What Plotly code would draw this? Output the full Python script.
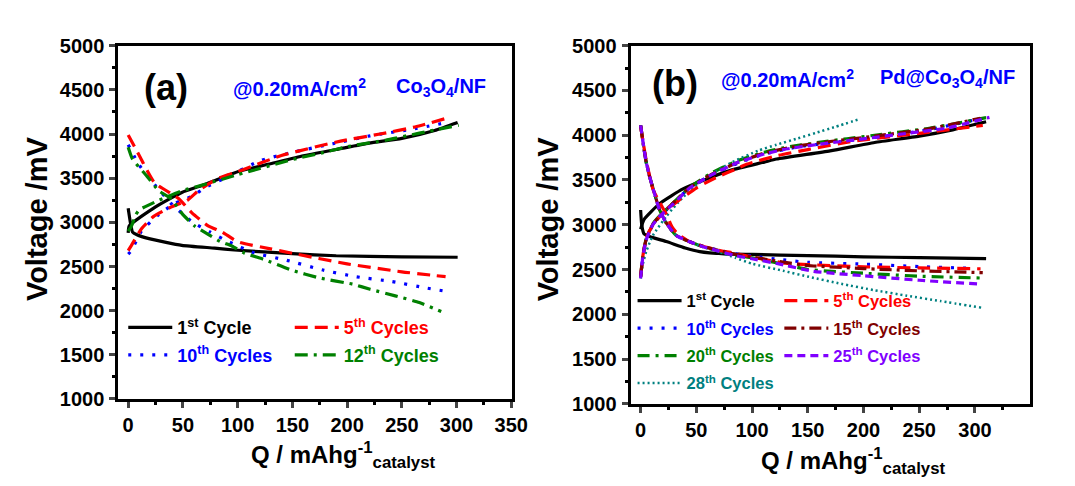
import plotly.graph_objects as go

# ---------------- Panel (a): Co3O4/NF ----------------
a1_chg_q = [0, 1, 25, 49, 70, 100, 130, 160, 190, 220, 250, 280, 301]
a1_chg_v = [2880, 2960, 3176, 3339, 3429, 3573, 3663, 3754, 3825, 3897, 3951, 4041, 4132]
a1_dis_q = [0, 2, 4, 8, 19, 49, 79, 97, 150, 190, 250, 301]
a1_dis_v = [3160, 3000, 2890, 2860, 2816, 2740, 2708, 2687, 2645, 2622, 2610, 2605]

a5_chg_q = [0, 3, 12, 23, 37, 54, 64, 82, 100, 140, 194, 230, 262, 294]
a5_chg_v = [2680, 2740, 2925, 3065, 3160, 3250, 3357, 3497, 3573, 3757, 3920, 4000, 4080, 4190]
a5_dis_q = [0, 10, 24, 46, 58, 73, 86, 100, 130, 150, 200, 250, 290]
a5_dis_v = [3990, 3760, 3450, 3270, 3110, 2960, 2890, 2780, 2700, 2650, 2530, 2440, 2385]

a10_chg_q = [0, 3, 12, 28, 43, 59, 70, 88, 121, 149, 187, 221, 262, 293]
a10_chg_v = [2640, 2680, 2900, 3090, 3216, 3300, 3390, 3500, 3700, 3790, 3890, 3980, 4060, 4135]
a10_dis_q = [0, 10, 24, 39, 58, 75, 91, 115, 145, 178, 208, 241, 273, 289]
a10_dis_v = [3880, 3650, 3430, 3216, 3010, 2890, 2785, 2655, 2570, 2460, 2385, 2330, 2255, 2222]

a12_chg_q = [0, 3, 7, 10, 28, 49, 70, 100, 151, 178, 203, 235, 266, 302]
a12_chg_v = [2900, 2957, 3087, 3140, 3250, 3357, 3430, 3540, 3714, 3790, 3865, 3930, 4010, 4100]
a12_dis_q = [0, 4, 16, 28, 39, 50, 61, 75, 84, 95, 106, 124, 149, 175, 205, 221, 244, 266, 286]
a12_dis_v = [3850, 3714, 3540, 3357, 3270, 3087, 2957, 2849, 2784, 2730, 2654, 2580, 2460, 2370, 2300, 2243, 2168, 2092, 1990]

# ---------------- Panel (b): Pd@Co3O4/NF ----------------
b1_chg_q = [0, 3, 17, 38, 61, 82, 111, 122, 170, 210, 250, 280, 310]
b1_chg_v = [2950, 3058, 3236, 3400, 3520, 3613, 3700, 3734, 3826, 3919, 3990, 4060, 4150]
b1_dis_q = [0, 1, 3, 10, 23, 40, 53, 75, 100, 150, 200, 250, 310]
b1_dis_v = [3165, 3000, 2900, 2860, 2812, 2740, 2700, 2675, 2668, 2655, 2642, 2632, 2622]

b5_chg_q = [0, 2, 5, 11, 20, 35, 50, 61, 70, 85, 95, 122, 150, 192, 254, 307]
b5_chg_v = [2420, 2650, 2850, 3000, 3130, 3280, 3410, 3485, 3540, 3620, 3675, 3770, 3840, 3935, 4026, 4110]
b5_dis_q = [0, 5, 11, 17, 23, 28, 33, 44, 56, 70, 85, 100, 130, 150, 200, 250, 305]
b5_dis_v = [4100, 3720, 3400, 3250, 3120, 2980, 2900, 2810, 2760, 2715, 2680, 2640, 2570, 2555, 2530, 2518, 2508]

b10_chg_q = [0, 2, 5, 11, 17, 29, 44, 64, 88, 111, 141, 170, 210, 258, 305]
b10_chg_v = [2420, 2650, 2830, 3000, 3090, 3236, 3413, 3560, 3690, 3790, 3870, 3915, 3975, 4060, 4185]
b10_dis_q = [0, 3, 5, 8, 11, 17, 23, 32, 44, 56, 70, 85, 100, 124, 150, 200, 250, 297]
b10_dis_v = [4110, 3850, 3700, 3540, 3410, 3165, 3020, 2880, 2810, 2760, 2715, 2675, 2650, 2613, 2580, 2560, 2532, 2514]

b15_chg_q = [0, 2, 5, 11, 17, 29, 44, 64, 88, 111, 141, 170, 210, 258, 305]
b15_chg_v = [2420, 2650, 2840, 3005, 3095, 3240, 3415, 3565, 3700, 3800, 3880, 3930, 3990, 4070, 4190]
b15_dis_q = [0, 3, 5, 8, 11, 17, 23, 32, 44, 56, 70, 85, 100, 124, 150, 200, 250, 307]
b15_dis_v = [4110, 3850, 3700, 3540, 3410, 3165, 3020, 2880, 2810, 2760, 2712, 2670, 2640, 2590, 2545, 2510, 2485, 2465]

b20_chg_q = [0, 2, 5, 11, 17, 29, 44, 64, 88, 111, 128, 160, 210, 260, 310]
b20_chg_v = [2420, 2650, 2840, 3010, 3100, 3240, 3420, 3580, 3720, 3810, 3860, 3920, 4000, 4080, 4196]
b20_dis_q = [0, 3, 5, 8, 11, 17, 23, 32, 44, 56, 70, 85, 100, 124, 150, 200, 250, 305]
b20_dis_v = [4110, 3850, 3700, 3540, 3410, 3165, 3020, 2880, 2810, 2755, 2705, 2660, 2630, 2570, 2500, 2458, 2425, 2405]

b25_chg_q = [0, 2, 5, 11, 17, 29, 44, 64, 88, 111, 128, 157, 200, 242, 275, 313]
b25_chg_v = [2400, 2640, 2830, 3000, 3090, 3230, 3410, 3560, 3700, 3790, 3840, 3894, 3960, 4026, 4080, 4200]
b25_dis_q = [0, 3, 5, 8, 11, 17, 23, 32, 44, 56, 70, 85, 100, 125, 155, 200, 250, 305]
b25_dis_v = [4110, 3850, 3700, 3540, 3410, 3165, 3020, 2880, 2810, 2755, 2705, 2655, 2620, 2560, 2480, 2430, 2380, 2336]

b28_chg_q = [0, 2, 5, 11, 23, 38, 58, 82, 106, 122, 141, 157, 175, 197]
b28_chg_v = [2400, 2560, 2700, 2880, 3093, 3307, 3520, 3698, 3830, 3894, 3965, 4026, 4095, 4182]
b28_dis_q = [0, 3, 5, 8, 11, 17, 23, 32, 44, 56, 70, 85, 100, 128, 151, 180, 210, 239, 269, 307]
b28_dis_v = [4110, 3850, 3700, 3540, 3410, 3165, 3020, 2880, 2810, 2750, 2700, 2630, 2565, 2485, 2418, 2340, 2268, 2207, 2147, 2071]

x_ticks = [0, 50, 100, 150, 200, 250, 300, 350]
y_ticks = [1000, 1500, 2000, 2500, 3000, 3500, 4000, 4500, 5000]

W, H = 1075, 486
def px(x): return x / W
def py(y): return 1 - y / H

FONT = "Liberation Sans, Arial, sans-serif"

fig = go.Figure()

def add(q1, v1, q2, v2, name, color, dash, xa, ya, legend, width=3.2):
    fig.add_trace(go.Scatter(
        x=q1 + [None] + q2, y=v1 + [None] + v2, mode="lines",
        line=dict(color=color, width=width, dash=dash, shape="spline", smoothing=0.5),
        name=f"<span style='color:{color}'>{name}</span>",
        xaxis=xa, yaxis=ya, legend=legend, legendgroup=name + legend,
        connectgaps=False))

# panel a
add(a1_chg_q, a1_chg_v, a1_dis_q, a1_dis_v, "1<sup>st</sup> Cycle", "#000000", "solid", "x", "y", "legend")
add(a10_chg_q, a10_chg_v, a10_dis_q, a10_dis_v, "10<sup>th</sup> Cycles", "#0000FF", "3px,9px", "x", "y", "legend")
add(a5_chg_q, a5_chg_v, a5_dis_q, a5_dis_v, "5<sup>th</sup> Cycles", "#FF0000", "13px,7px", "x", "y", "legend2")
add(a12_chg_q, a12_chg_v, a12_dis_q, a12_dis_v, "12<sup>th</sup> Cycles", "#008000", "13px,6px,3px,6px", "x", "y", "legend2")

# panel b
add(b1_chg_q, b1_chg_v, b1_dis_q, b1_dis_v, "1<sup>st</sup> Cycle", "#000000", "solid", "x2", "y2", "legend3")
add(b10_chg_q, b10_chg_v, b10_dis_q, b10_dis_v, "10<sup>th</sup> Cycles", "#0000FF", "3px,9px", "x2", "y2", "legend3")
add(b20_chg_q, b20_chg_v, b20_dis_q, b20_dis_v, "20<sup>th</sup> Cycles", "#008000", "12px,6px,3px,6px", "x2", "y2", "legend3")
add(b28_chg_q, b28_chg_v, b28_dis_q, b28_dis_v, "28<sup>th</sup> Cycles", "#008080", "2px,3px", "x2", "y2", "legend3", width=2.5)
add(b5_chg_q, b5_chg_v, b5_dis_q, b5_dis_v, "5<sup>th</sup> Cycles", "#FF0000", "13px,7px", "x2", "y2", "legend4")
add(b15_chg_q, b15_chg_v, b15_dis_q, b15_dis_v, "15<sup>th</sup> Cycles", "#800000", "12px,5px,3px,5px", "x2", "y2", "legend4")
add(b25_chg_q, b25_chg_v, b25_dis_q, b25_dis_v, "25<sup>th</sup> Cycles", "#8000FF", "8px,5px", "x2", "y2", "legend4")

xax = dict(range=[-9, 351], tickvals=x_ticks, ticks="outside", ticklen=6, tickwidth=3,
           showline=True, linewidth=3, linecolor="black", mirror=True, showgrid=False, zeroline=False,
           tickfont=dict(family=FONT, size=20, color="black", weight="bold"),
           minor=dict(tickvals=[25, 75, 125, 175, 225, 275, 325], ticks="outside", ticklen=3, tickwidth=3, tickcolor="black"))
yax = dict(range=[1000, 5000], tickvals=y_ticks, ticks="outside", ticklen=6, tickwidth=3,
           showline=True, linewidth=3, linecolor="black", mirror=True, showgrid=False, zeroline=False,
           tickfont=dict(family=FONT, size=20, color="black", weight="bold"), ticklabelstandoff=1,
           minor=dict(tickvals=[1250, 1750, 2250, 2750, 3250, 3750, 4250, 4750], ticks="outside", ticklen=3, tickwidth=3, tickcolor="black"))

fig.update_layout(
    width=W, height=H, margin=dict(l=0, r=0, t=0, b=0),
    paper_bgcolor="white", plot_bgcolor="white", showlegend=True,
    xaxis=dict(xax, domain=[px(112), px(512)], anchor="y"),
    yaxis=dict(yax, domain=[py(398), py(28)], anchor="x"),
    xaxis2=dict(xax, domain=[px(632), px(1037)], anchor="y2", range=[-9, 349]),
    yaxis2=dict(yax, domain=[py(403), py(28)], anchor="x2"),
)

leg = dict(bgcolor="rgba(0,0,0,0)", font=dict(family=FONT, size=18, color="black", weight="bold"),
           xanchor="left", yanchor="top", tracegroupgap=1, itemwidth=44, traceorder="grouped")
legb = dict(leg, font=dict(family=FONT, size=16.5, color="black", weight="bold"), tracegroupgap=3)
fig.update_layout(
    legend=dict(leg, x=px(117), y=py(304)),
    legend2=dict(leg, x=px(286), y=py(304)),
    legend3=dict(legb, x=px(634), y=py(277)),
    legend4=dict(legb, x=px(783), y=py(277)),
)

def ann(text, x, y, size, color="black", xanchor="left", angle=0, yanchor="middle"):
    fig.add_annotation(text=text, x=px(x), y=py(y), xref="paper", yref="paper",
                       xanchor=xanchor, yanchor=yanchor, showarrow=False, textangle=angle,
                       font=dict(family=FONT, size=size, color=color, weight="bold"))

ann("(a)", 160, 72, 36, xanchor="center")
ann("@0.20mA/cm<sup>2</sup>", 226, 72, 20, "#0000FF")
ann("Co<sub>3</sub>O<sub>4</sub>/NF", 392, 72, 20, "#0000FF")
ann("(b)", 677, 68, 36, xanchor="center")
ann("@0.20mA/cm<sup>2</sup>", 722, 62, 20, "#0000FF")
ann("Pd@Co<sub>3</sub>O<sub>4</sub>/NF", 883, 62, 20, "#0000FF")

ann("Voltage /mV", 30, 210, 29, xanchor="center", angle=-90)
ann("Voltage /mV", 549, 210, 29, xanchor="center", angle=-90)
ann("Q / mAhg<sup>-1</sup><sub>catalyst</sub>", 245, 457, 24)
ann("Q / mAhg<sup>-1</sup><sub>catalyst</sub>", 762, 463, 24)

fig.write_html("out.html")
